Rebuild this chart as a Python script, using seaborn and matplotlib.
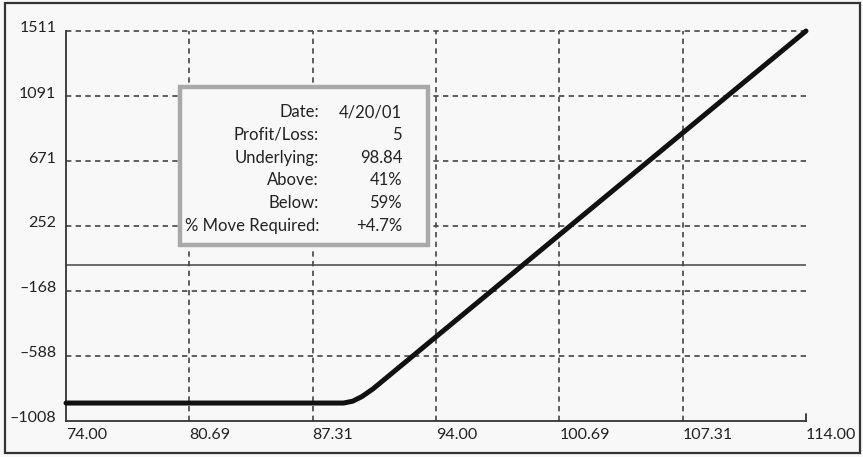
import numpy as np
import pandas as pd
import matplotlib
matplotlib.use("Agg")
import matplotlib.pyplot as plt
import matplotlib.transforms as mtransforms
from matplotlib.patches import Rectangle
import seaborn as sns

# payoff curve (underlying price vs profit/loss)
underlying = [74.0, 89.0, 89.5, 90.0, 90.6, 114.0]
profit_loss = [-892, -892, -880, -850, -800, 1511]

x_ticks = [74.0, 80.67, 87.33, 94.0, 100.67, 107.33, 114.0]
x_tick_labels = ["74.00", "80.69", "87.31", "94.00", "100.69", "107.31", "114.00"]
y_ticks = [1511, 1091, 671, 252, -168, -588, -1008]
y_tick_labels = ["1511", "1091", "671", "252", "\u2013168", "\u2013588", "\u20131008"]

info_labels = ["Date:", "Profit/Loss:", "Underlying:", "Above:", "Below:", "% Move Required:"]
info_values = ["4/20/01", "5", "98.84", "41%", "59%", "+4.7%"]

sns.set_theme(style="white")
plt.rcParams["font.family"] = ["Lato", "DejaVu Sans"]

bg = "#f8f8f8"
grid_c = "#444444"

fig = plt.figure(figsize=(8.63, 4.57), dpi=100, facecolor=bg)
ax = fig.add_axes([66 / 863, 1 - 421 / 457, 740 / 863, 390 / 457])
ax.set_facecolor(bg)

df = pd.DataFrame({"x": underlying, "y": profit_loss})
ax.set_xlim(74, 114)
ax.set_ylim(-1008, 1511)

# dashed grid
for yv in y_ticks[:-1]:
    ax.axhline(yv, color=grid_c, lw=1.2, ls=(0, (3.2, 2.6)), zorder=1, clip_on=False)
for xv in x_ticks[1:-1]:
    ax.axvline(xv, color=grid_c, lw=1.2, ls=(0, (3.2, 2.6)), zorder=1, clip_on=False)
ax.axhline(0, color="#444444", lw=1.1, zorder=1)

sns.lineplot(data=df, x="x", y="y", ax=ax, color="#111111", lw=3.6,
             solid_capstyle="round", zorder=3, clip_on=False)

for side in ["top", "right"]:
    ax.spines[side].set_visible(False)
for side in ["left", "bottom"]:
    ax.spines[side].set_color("#333333")
    ax.spines[side].set_linewidth(1.3)
ax.plot([114, 114], [-1008, -1008 + 45], color="#333333", lw=1.3, clip_on=False)

ax.set_xticks(x_ticks)
ax.set_xticklabels(x_tick_labels)
ax.set_yticks(y_ticks)
ax.set_yticklabels(y_tick_labels)
ax.tick_params(length=0, labelsize=11.5, colors="#222222")
ax.tick_params(axis="y", pad=7)
ax.tick_params(axis="x", pad=5)
for lab in ax.get_xticklabels():
    lab.set_ha("left")
for lab in ax.get_yticklabels():
    lab.set_transform(lab.get_transform() + mtransforms.ScaledTranslation(0, 4 / 100, fig.dpi_scale_trans))
ax.set_xlabel("")
ax.set_ylabel("")

# info box
box = Rectangle((180 / 863, 1 - 245 / 457), 248 / 863, 158 / 457, transform=fig.transFigure,
                facecolor=bg, edgecolor="#a9a9a9", lw=3.2, zorder=5)
fig.patches.append(box)
row_y = [112, 135, 158, 180, 203, 226]
for lab, val, yy in zip(info_labels, info_values, row_y):
    fig.text(319 / 863, 1 - yy / 457, lab, ha="right", va="center", fontsize=12,
             color="#222222", zorder=6)
    fig.text(402 / 863, 1 - yy / 457, val, ha="right", va="center", fontsize=12,
             color="#222222", zorder=6)

# outer frame
frame = Rectangle((5 / 863, 4 / 457), 855 / 863, 450 / 457, transform=fig.transFigure,
                  facecolor="none", edgecolor="#333333", lw=1.6)
fig.patches.append(frame)

fig.savefig("out.png", dpi=100, facecolor=bg)
